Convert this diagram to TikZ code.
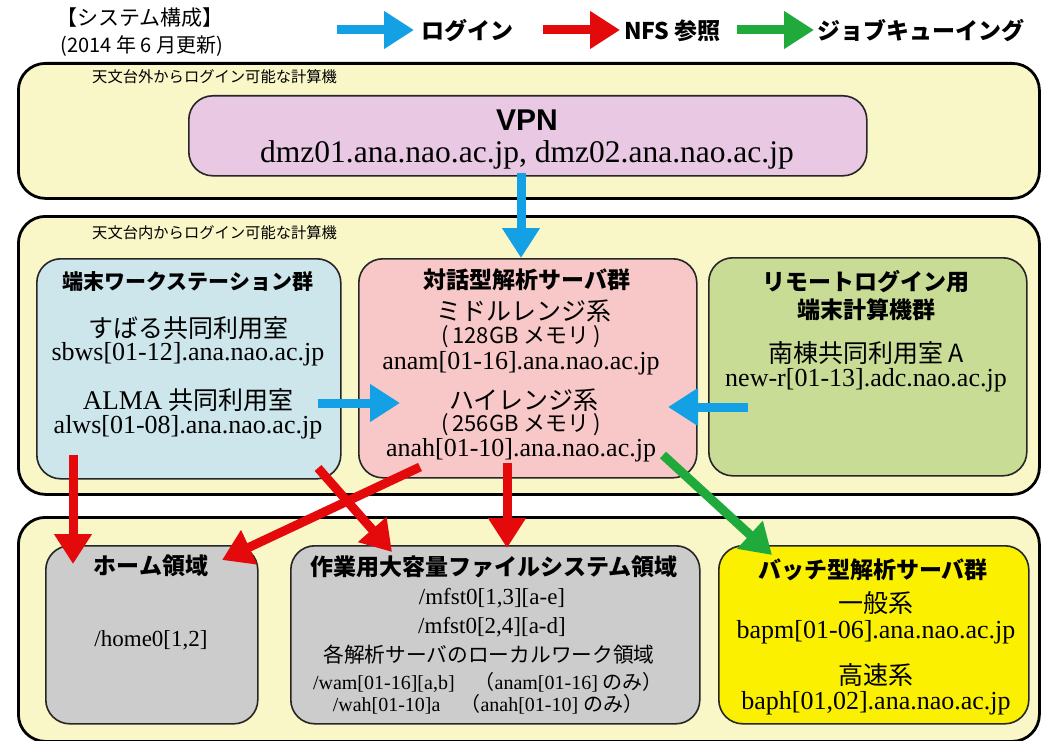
\documentclass[tikz,border=0pt]{standalone}
\usepackage{fontspec}
\setmainfont{Liberation Serif}
\newfontfamily\jp{Noto Sans CJK JP}
\newfontfamily\lsans{Liberation Sans}
\usetikzlibrary{arrows.meta}
\definecolor{outerY}{RGB}{249,247,200}
\definecolor{vpnC}{RGB}{232,200,226}
\definecolor{cyanC}{RGB}{205,230,236}
\definecolor{pinkC}{RGB}{248,200,200}
\definecolor{greenC}{RGB}{200,220,150}
\definecolor{grayC}{RGB}{204,204,204}
\definecolor{yellowC}{RGB}{250,240,0}
\definecolor{blueA}{RGB}{20,160,228}
\definecolor{redA}{RGB}{228,10,12}
\definecolor{greenA}{RGB}{32,170,60}
\newcommand{\fsz}[1]{\fontsize{#1}{#1}\selectfont}
\tikzset{
  outerbox/.style={draw=black, line width=2.8pt, rounded corners=27pt, fill=outerY, anchor=north west, inner sep=0pt},
  innerbox/.style={draw=black!85, line width=1.6pt, rounded corners=24pt, anchor=north west, inner sep=0pt},
  arr/.style={line width=9pt, -{Triangle[length=30pt,width=36pt]}},
  ttl/.style={font=\jp\bfseries\fsz{23}, inner sep=0pt},
  jtx/.style={font=\jp\fsz{25}, inner sep=0pt},
  mem/.style={font=\jp\fsz{22}, inner sep=0pt},
  host/.style={font=\rmfamily\fsz{26}, inner sep=0pt},
  small/.style={font=\jp\fsz{15.3}, inner sep=0pt, anchor=west},
  legend/.style={font=\jp\bfseries\fsz{23}, inner sep=0pt, anchor=west},
}
\begin{document}
\begin{tikzpicture}[x=1pt,y=-1pt]
\useasboundingbox (0,0) rectangle (1046,741);
\fill[white] (0,0) rectangle (1046,741);

% header
\node[font=\jp\fsz{21}, inner sep=0pt] (hd1) at (140,18) {【システム構成】};
\node[font=\jp\fsz{20}, inner sep=0pt] (hd2) at (142,46) {(2014 年 6 月更新)};

% legend
\coordinate (lb1) at (337,30); \coordinate (lb2) at (414,30);
\coordinate (lr1) at (543,30); \coordinate (lr2) at (620,30);
\coordinate (lg1) at (737,30); \coordinate (lg2) at (814,30);
\draw[arr, blueA] (lb1) -- (lb2);
\draw[arr, redA] (lr1) -- (lr2);
\draw[arr, greenA] (lg1) -- (lg2);
\node[legend] (lt1) at (421,31) {ログイン};
\node[legend] (lt2) at (624,31) {NFS 参照};
\node[legend] (lt3) at (817,31) {ジョブキューイング};

% outer boxes
\node[outerbox, minimum width=1021pt, minimum height=135pt] (out1) at (17,62) {};
\node[outerbox, minimum width=1021pt, minimum height=278pt] (out2) at (17,215) {};
\node[outerbox, minimum width=1021pt, minimum height=224pt] (out3) at (17,516) {};
\node[small] (lab1) at (92,77) {天文台外からログイン可能な計算機};
\node[small] (lab2) at (92,233) {天文台内からログイン可能な計算機};

% VPN
\node[innerbox, fill=vpnC, minimum width=678pt, minimum height=80pt] (vpn) at (188,95) {};
\node[font=\lsans\bfseries\fsz{30}, inner sep=0pt] (vpnt) at (527,120) {VPN};
\node[font=\rmfamily\fsz{31.5}, inner sep=0pt] (vpnh) at (527,155) {dmz01.ana.nao.ac.jp, dmz02.ana.nao.ac.jp};

% cyan
\node[innerbox, fill=cyanC, minimum width=304pt, minimum height=220pt] (cyan) at (36,258) {};
\node[ttl, font=\jp\bfseries\fsz{21}] (cy1) at (188,282) {端末ワークステーション群};
\node[jtx] (cy2) at (188,328) {すばる共同利用室};
\node[host] (cy3) at (188,354) {sbws[01-12].ana.nao.ac.jp};
\node[jtx] (cy4) at (188,400) {{\rmfamily\fsz{27}ALMA} 共同利用室};
\node[host] (cy5) at (188,427) {alws[01-08].ana.nao.ac.jp};

% pink
\node[innerbox, fill=pinkC, minimum width=338pt, minimum height=219pt] (pink) at (358,258) {};
\node[ttl] (pk1) at (527,280) {対話型解析サーバ群};
\node[jtx] (pk2) at (524,311) {ミドルレンジ系};
\node[mem] (pk3) at (521,337) {(\,128GB メモリ\,)};
\node[host] (pk4) at (521,363) {anam[01-16].ana.nao.ac.jp};
\node[jtx] (pk5) at (524,400) {ハイレンジ系};
\node[mem] (pk6) at (521,425) {(\,256GB メモリ\,)};
\node[host] (pk7) at (521,450) {anah[01-10].ana.nao.ac.jp};

% green
\node[innerbox, fill=greenC, minimum width=318pt, minimum height=218pt] (grn) at (708,257) {};
\node[ttl] (gr1) at (866,282) {リモートログイン用};
\node[ttl] (gr2) at (866,310) {端末計算機群};
\node[jtx] (gr3) at (866,353) {南棟共同利用室 A};
\node[host] (gr4) at (866,380) {new-r[01-13].adc.nao.ac.jp};

% home
\node[innerbox, fill=grayC, minimum width=212pt, minimum height=178pt] (home) at (45,545) {};
\node[ttl] (hm1) at (151,566) {ホーム領域};
\node[host, font=\rmfamily\fsz{23}] (hm2) at (151,640) {/home0[1,2]};

% work
\node[innerbox, fill=grayC, minimum width=409pt, minimum height=178pt] (work) at (290,545) {};
\node[ttl] (wk1) at (494,567) {作業用大容量ファイルシステム領域};
\node[host, font=\rmfamily\fsz{23}] (wk2) at (492,598) {/mfst0[1,3][a-e]};
\node[host, font=\rmfamily\fsz{23}] (wk3) at (492,627) {/mfst0[2,4][a-d]};
\node[jtx, font=\jp\fsz{20.7}] (wk4) at (489,655) {各解析サーバのローカルワーク領域};
\node[host, font=\rmfamily\fsz{20}] (wk5) at (488,682) {/wam[01-16][a,b]{\jp　（}anam[01-16] {\jp のみ）}};
\node[host, font=\rmfamily\fsz{20}] (wk6) at (488,704) {/wah[01-10]a{\jp　（}anah[01-10] {\jp のみ）}};

% batch
\node[innerbox, fill=yellowC, minimum width=310pt, minimum height=178pt] (batch) at (718,545) {};
\node[ttl] (bt1) at (873,570) {バッチ型解析サーバ群};
\node[jtx] (bt2) at (876,603) {一般系};
\node[host] (bt3) at (876,632) {bapm[01-06].ana.nao.ac.jp};
\node[jtx] (bt4) at (876,675) {高速系};
\node[host] (bt5) at (876,703) {baph[01,02].ana.nao.ac.jp};

% connectors
\coordinate (a1s) at (521,173); \coordinate (a1e) at (521,258);
\coordinate (a2s) at (318,403); \coordinate (a2e) at (400,403);
\coordinate (a3s) at (748,407); \coordinate (a3e) at (668,407);
\coordinate (r1s) at (73,455);  \coordinate (r1e) at (73,564);
\coordinate (r2s) at (318,468); \coordinate (r2e) at (392,552);
\coordinate (r3s) at (420,467); \coordinate (r3e) at (222,560);
\coordinate (r4s) at (507,463); \coordinate (r4e) at (507,548);
\coordinate (g1s) at (663,455); \coordinate (g1e) at (772,555);
\draw[arr, blueA] (a1s) -- (a1e);
\draw[arr, blueA] (a2s) -- (a2e);
\draw[arr, blueA] (a3s) -- (a3e);
\draw[arr, redA] (r1s) -- (r1e);
\draw[arr, redA] (r2s) -- (r2e);
\draw[arr, redA] (r3s) -- (r3e);
\draw[arr, redA] (r4s) -- (r4e);
\draw[arr, greenA] (g1s) -- (g1e);
\end{tikzpicture}
\end{document}
